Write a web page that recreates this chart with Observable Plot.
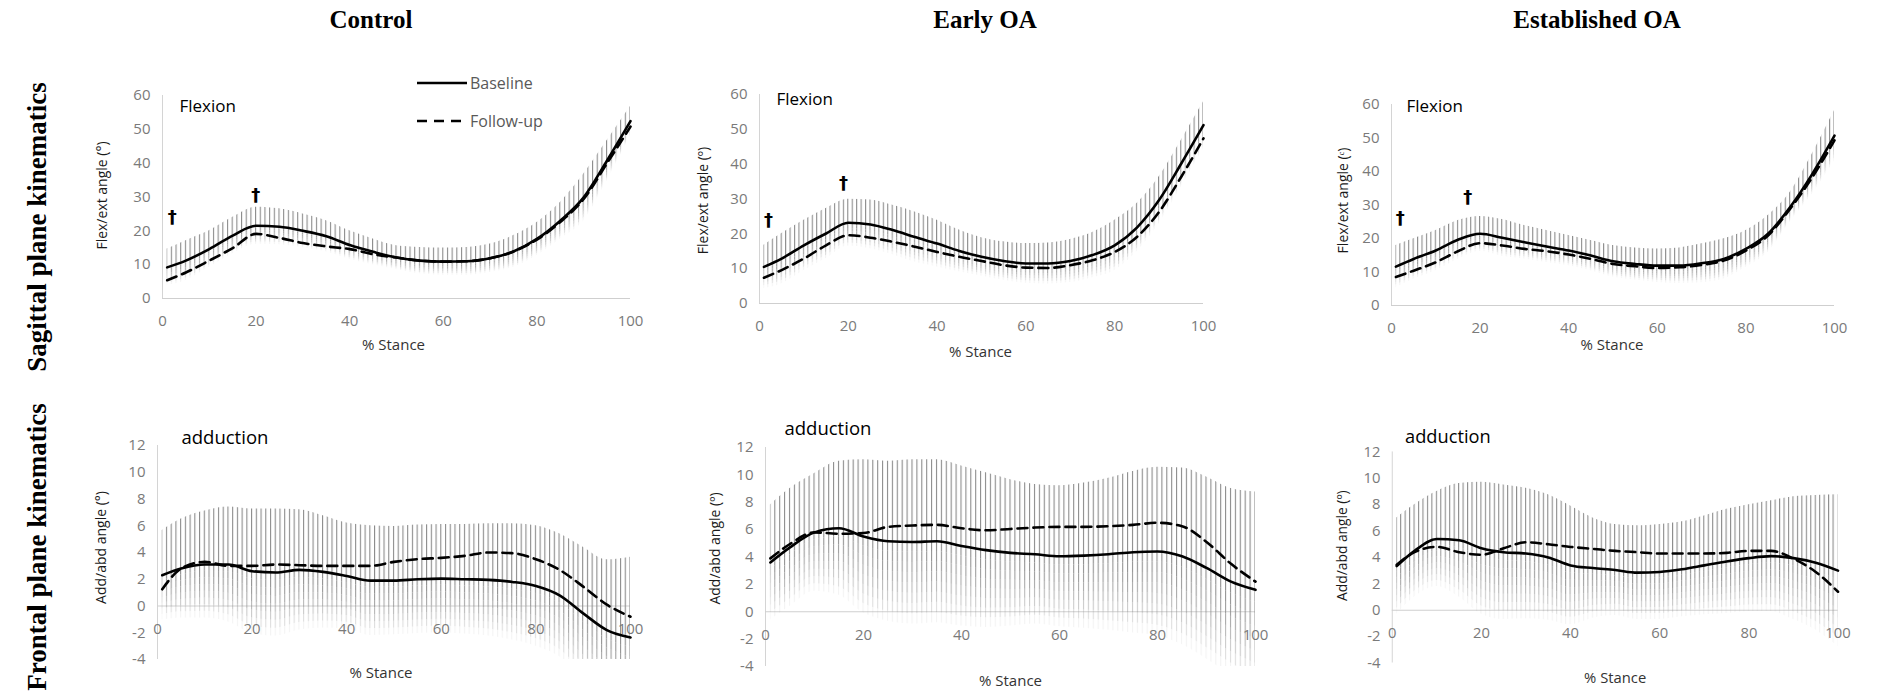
<!DOCTYPE html>
<html><head><meta charset="utf-8">
<script src="https://cdn.jsdelivr.net/npm/d3@7"></script>
<script src="https://cdn.jsdelivr.net/npm/@observablehq/plot@0.6"></script>
<style>
html,body{margin:0;padding:0;background:#fff;}
#root{position:relative;width:1877px;height:699px;overflow:hidden;font-family:"Open Sans",sans-serif;}
.abs{position:absolute;}
.coltitle{position:absolute;top:7px;font-family:"Liberation Serif",serif;font-weight:bold;font-size:25px;line-height:25px;color:#000;transform:translateX(-50%);white-space:nowrap;}
.rowtitle{position:absolute;font-family:"Liberation Serif",serif;font-weight:bold;font-size:27px;line-height:27px;color:#000;white-space:nowrap;transform:translate(-50%,-50%) rotate(-90deg);}
</style></head>
<body><div id="root"></div>
<script>
// ---------------- data ----------------
const stance = [1,5,10,15,20,25,30,35,40,45,50,55,60,65,70,75,80,85,90,95,100];
const xTicks = [0,20,40,60,80,100];
const sagTicks = [0,10,20,30,40,50,60];
const froTicks = [-4,-2,0,2,4,6,8,10,12];
const groups = ["Control","Early OA","Established OA"];
const rowTitles = ["Sagittal plane kinematics","Frontal plane kinematics"];
const legendLabels = ["Baseline","Follow-up"];
const panelLabels = ["Flexion","adduction"];
const sagYLabels = ["Flex/ext angle (°)","Flex/ext angle (º)","Flex/ext angle (ᶜ)"];
const froYLabels = ["Add/abd angle (°)","Add/abd angle (º)","Add/abd angle (º)"];
const stanceLabel = "% Stance";

// Sagittal plane: mean baseline, mean follow-up, top of baseline SD bar
const ctrlSagBase = [9.2,11.2,14.6,18.6,21.5,21.2,20.0,18.4,15.8,13.8,12.1,11.2,10.9,11.0,11.9,13.9,17.6,23.0,29.9,40.8,52.4];
const ctrlSagFol  = [5.4,7.7,11.2,14.9,19.1,17.9,16.4,15.4,14.6,13.1,12.1,11.2,10.9,11.0,11.9,13.9,17.4,22.6,29.4,40.0,50.8];
const ctrlSagUp   = [14.6,17.1,20.0,24.0,27.0,26.5,25.0,23.0,20.0,17.6,15.6,15.1,14.9,15.1,16.1,18.6,22.5,28.4,36.8,46.7,56.8];

const earlySagBase = [10.5,12.9,16.7,20.1,23.2,22.7,21.1,19.1,17.2,15.1,13.4,12.2,11.5,11.5,12.2,13.9,16.7,21.8,29.7,40.2,51.2];
const earlySagFol  = [7.4,9.6,12.9,16.7,19.6,18.9,17.7,16.3,14.8,13.4,12.2,11.0,10.3,10.2,11.0,12.4,14.8,19.1,26.3,36.4,47.4];
const earlySagUp   = [16.7,20.1,23.9,27.3,29.9,29.7,28.2,26.3,23.9,21.1,18.9,17.7,17.2,17.4,18.4,20.4,23.9,28.7,36.4,46.9,57.9];

const estSagBase = [11.6,13.9,16.4,19.6,21.4,20.2,18.9,17.6,16.4,14.9,13.2,12.4,11.9,11.9,12.6,13.9,16.9,21.4,29.4,39.3,50.7];
const estSagFol  = [8.5,10.4,12.9,16.2,18.6,17.9,16.9,16.2,15.2,13.9,12.4,11.7,11.2,11.4,12.1,13.4,16.4,20.9,28.9,38.3,49.3];
const estSagUp   = [17.9,19.9,22.4,25.4,26.6,25.7,23.9,22.4,20.9,19.4,17.9,17.2,16.9,17.2,18.4,19.9,22.4,26.9,33.8,45.3,58.2];

// Frontal plane
const ctrlFroBase = [2.3,2.8,3.1,3.1,2.6,2.5,2.7,2.55,2.25,1.9,1.9,2.0,2.05,2.0,1.95,1.8,1.5,0.8,-0.55,-1.8,-2.35];
const ctrlFroFol  = [1.25,2.8,3.3,3.0,3.0,3.1,3.05,3.0,3.0,3.0,3.3,3.5,3.6,3.75,4.0,3.95,3.5,2.7,1.45,0.1,-0.8];
const ctrlFroUp   = [5.65,6.5,7.1,7.4,7.25,7.25,7.2,6.75,6.2,6.0,5.95,6.05,6.1,6.1,6.15,6.15,6.0,5.4,4.4,3.45,3.65];

const earlyFroBase = [3.6,4.7,5.8,6.1,5.5,5.15,5.1,5.15,4.8,4.5,4.3,4.2,4.05,4.1,4.2,4.35,4.4,4.05,3.2,2.2,1.6];
const earlyFroFol  = [3.9,4.95,5.8,5.7,5.75,6.2,6.3,6.35,6.1,5.95,6.05,6.15,6.2,6.2,6.25,6.35,6.5,6.25,5.1,3.5,2.2];
const earlyFroUp   = [7.8,9.0,10.1,11.0,11.1,11.0,11.1,11.1,10.65,10.15,9.65,9.3,9.2,9.4,9.75,10.25,10.55,10.5,9.85,9.0,8.75];

const estFroBase = [3.35,4.5,5.4,5.3,4.7,4.4,4.3,4.0,3.4,3.2,3.05,2.85,2.9,3.1,3.4,3.7,3.95,4.1,3.95,3.6,3.0];
const estFroFol  = [3.45,4.4,4.8,4.4,4.2,4.7,5.15,5.0,4.8,4.65,4.5,4.4,4.3,4.3,4.3,4.35,4.5,4.5,3.9,2.9,1.4];
const estFroUp   = [7.0,8.0,9.0,9.6,9.7,9.5,9.25,8.75,7.9,7.0,6.5,6.4,6.5,6.7,7.15,7.65,8.0,8.3,8.6,8.7,8.75];

// significance daggers (sagittal panels)
const daggerX = [[2.1,19.9],[2.0,18.9],[2.0,17.2]];
const daggerY = [[23.9,30.4],[23.8,34.5],[26.0,32.2]];

// ---------------- layout ----------------
const root = document.getElementById("root");
const FONT = "Open Sans";

function panel(id, c) {
  const ml = 90, mr = 40, mt = 40, mb = 70;
  const fw = c.x100 - c.x0, fh = c.yBot - c.yTop;
  const width = fw + ml + mr, height = fh + mt + mb;
  const rows = stance.map((s, i) => ({s, b: c.base[i], f: c.fol[i], up: c.up[i], sd: c.up[i] - c.base[i]}));
  const pid = "stripes-" + id;
  const url = `url(#${pid})`;
  const curve = "monotone-x";
  const marks = [];
  // axis lines
  marks.push(Plot.ruleX([0], {y1: c.domain[0], y2: c.domain[1], stroke: "#d4d4d4", strokeWidth: 1}));
  marks.push(Plot.ruleY([0], {x1: 0, x2: 100, stroke: "#cfcfcf", strokeWidth: 1.2}));
  // SD bars: solid above the mean, fading below
  marks.push(Plot.areaY(rows, {x: "s", y1: "b", y2: "up", fill: url, curve, clip: true}));
  const N = 8;
  for (let k = 0; k < N; k++) {
    marks.push(Plot.areaY(rows, {
      x: "s",
      y1: d => d.b - d.sd * k / N,
      y2: d => d.b - d.sd * (k + 1) / N,
      fill: url, fillOpacity: Math.max(0, 1 - Math.pow((k + 0.5) / N, 1.6)),
      curve, clip: true
    }));
  }
  // mean curves
  marks.push(Plot.line(rows, {x: "s", y: "f", stroke: "#000", strokeWidth: 2.6, strokeDasharray: "10,6", curve}));
  marks.push(Plot.line(rows, {x: "s", y: "b", stroke: "#000", strokeWidth: 2.6, curve}));
  // tick labels
  marks.push(Plot.text(c.yTicks, {x: 0, y: d => d, dx: -12, textAnchor: "end", fill: "#7a7a7a", fontSize: 15}));
  marks.push(Plot.text(xTicks, {x: d => d, y: 0, dy: 23, fill: "#7a7a7a", fontSize: 15}));
  // axis titles
  marks.push(Plot.text([c.ylabel], {frameAnchor: "left", dx: c.ylDx, dy: c.ylDy, rotate: -90, textAnchor: "middle", lineAnchor: "middle", fill: "#1a1a1a", fontSize: 14}));
  marks.push(Plot.text([stanceLabel], {frameAnchor: "bottom", dx: c.stDx, dy: c.stDy, textAnchor: "middle", lineAnchor: "middle", fill: "#333", fontSize: 15}));
  // panel label
  marks.push(Plot.text([c.label], {frameAnchor: "top-left", dx: c.lbDx, dy: c.lbDy, textAnchor: "start", lineAnchor: "middle", fill: "#000", fontSize: c.lbSize}));
  if (c.dx) {
    marks.push(Plot.text(c.dx.map((x, i) => ({x, y: c.dy[i]})), {x: "x", y: "y", text: () => "†", fontSize: 18, fontWeight: "bold", fill: "#000", fontFamily: "DejaVu Sans"}));
  }
  const svg = Plot.plot({
    width, height, marginLeft: ml, marginRight: mr, marginTop: mt, marginBottom: mb,
    x: {domain: [0, 100], axis: null},
    y: {domain: c.domain, axis: null},
    style: {background: "transparent", overflow: "visible", fontFamily: FONT},
    marks
  });
  const pw = fw / 100;
  const defs = d3.select(svg).insert("defs", ":first-child");
  const pat = defs.append("pattern").attr("id", pid).attr("patternUnits", "userSpaceOnUse")
    .attr("x", ml - 0.55).attr("y", 0).attr("width", pw).attr("height", 10);
  pat.append("rect").attr("x", 0).attr("y", 0).attr("width", 1.1).attr("height", 10).attr("fill", "#8c8c8c");
  const div = document.createElement("div");
  div.className = "abs";
  div.style.left = (c.x0 - ml) + "px";
  div.style.top = (c.yTop - mt) + "px";
  div.appendChild(svg);
  root.appendChild(div);
}

const cfgs = [
  {x0: 162, x100: 630, yTop: 95, yBot: 298, domain: [0, 60], yTicks: sagTicks, base: ctrlSagBase, fol: ctrlSagFol, up: ctrlSagUp,
   label: panelLabels[0], lbDx: 17, lbDy: 11, lbSize: 17, ylabel: sagYLabels[0], ylDx: -60, ylDy: -1.5, stDx: -3, stDy: 47, dx: daggerX[0], dy: daggerY[0]},
  {x0: 759, x100: 1203, yTop: 94, yBot: 303, domain: [0, 60], yTicks: sagTicks, base: earlySagBase, fol: earlySagFol, up: earlySagUp,
   label: panelLabels[0], lbDx: 17, lbDy: 5, lbSize: 17, ylabel: sagYLabels[1], ylDx: -56, ylDy: 1.5, stDx: -1, stDy: 49, dx: daggerX[1], dy: daggerY[1]},
  {x0: 1391, x100: 1834, yTop: 104, yBot: 305, domain: [0, 60], yTicks: sagTicks, base: estSagBase, fol: estSagFol, up: estSagUp,
   label: panelLabels[0], lbDx: 15, lbDy: 2, lbSize: 17, ylabel: sagYLabels[2], ylDx: -48, ylDy: -4.5, stDx: -1, stDy: 40, dx: daggerX[2], dy: daggerY[2]},
  {x0: 157, x100: 630, yTop: 445, yBot: 659, domain: [-4, 12], yTicks: froTicks, base: ctrlFroBase, fol: ctrlFroFol, up: ctrlFroUp,
   label: panelLabels[1], lbDx: 24, lbDy: -7, lbSize: 18.5, ylabel: froYLabels[0], ylDx: -56, ylDy: -5, stDx: -13, stDy: 14},
  {x0: 765, x100: 1255, yTop: 447, yBot: 666, domain: [-4, 12], yTicks: froTicks, base: earlyFroBase, fol: earlyFroFol, up: earlyFroUp,
   label: panelLabels[1], lbDx: 19, lbDy: -18, lbSize: 18.5, ylabel: froYLabels[1], ylDx: -50, ylDy: -8.5, stDx: 0, stDy: 15},
  {x0: 1393, x100: 1845, yTop: 452, yBot: 666, domain: [-4, 12], yTicks: froTicks, base: estFroBase, fol: estFroFol, up: estFroUp,
   label: panelLabels[1], lbDx: 13, lbDy: -15, lbSize: 18.5, ylabel: froYLabels[2], ylDx: -50, ylDy: -12, stDx: 0, stDy: 15}
];
cfgs.forEach((c, i) => panel(i, c));

// column titles
const titleX = [371, 985, 1597];
groups.forEach((g, i) => {
  const d = document.createElement("div");
  d.className = "coltitle";
  d.style.left = titleX[i] + "px";
  d.textContent = g;
  root.appendChild(d);
});
// row titles
const rowY = [227, 547];
rowTitles.forEach((t, i) => {
  const d = document.createElement("div");
  d.className = "rowtitle";
  d.style.left = "37px";
  d.style.top = rowY[i] + "px";
  d.textContent = t;
  root.appendChild(d);
});
// legend
const NS = "http://www.w3.org/2000/svg";
const leg = document.createElementNS(NS, "svg");
leg.setAttribute("width", 160); leg.setAttribute("height", 80);
leg.setAttribute("class", "abs");
leg.style.left = "410px"; leg.style.top = "65px";
legendLabels.forEach((lab, i) => {
  const y = 18 + i * 38;
  const ln = document.createElementNS(NS, "line");
  ln.setAttribute("x1", 7); ln.setAttribute("x2", 57); ln.setAttribute("y1", y); ln.setAttribute("y2", y);
  ln.setAttribute("stroke", "#000"); ln.setAttribute("stroke-width", 2.6);
  if (i === 1) ln.setAttribute("stroke-dasharray", "10,7");
  leg.appendChild(ln);
  const tx = document.createElementNS(NS, "text");
  tx.setAttribute("x", 60); tx.setAttribute("y", y); tx.setAttribute("dominant-baseline", "central");
  tx.setAttribute("font-family", FONT); tx.setAttribute("font-size", 16); tx.setAttribute("fill", "#595959");
  tx.textContent = lab;
  leg.appendChild(tx);
});
root.appendChild(leg);
</script>
</body></html>
